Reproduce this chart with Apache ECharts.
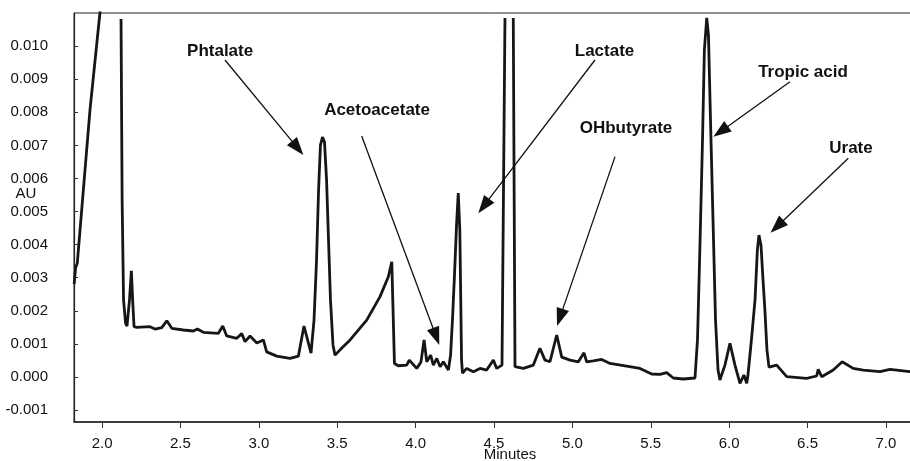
<!DOCTYPE html>
<html><head><meta charset="utf-8">
<script src="https://cdn.jsdelivr.net/npm/echarts@6/dist/echarts.min.js"></script>
<style>html,body{margin:0;padding:0;background:#fff}#c{width:910px;height:461px}</style>
</head><body><div id="c"></div>
<script>
// Retention time (minutes)
const times = [
  1.822, 1.831, 1.842, 1.923, 1.987, 2.001, 2.060,
  2.121, 2.128, 2.137, 2.150, 2.159, 2.175, 2.187, 2.195, 2.204,
  2.221, 2.306, 2.338, 2.381, 2.413, 2.445, 2.518, 2.582, 2.608, 2.646,
  2.742, 2.770, 2.795, 2.859, 2.891, 2.912, 2.944, 2.987, 3.029, 3.050,
  3.114, 3.199, 3.252, 3.288, 3.333,
  3.352, 3.368, 3.381, 3.393, 3.406, 3.419, 3.432, 3.443, 3.457, 3.473, 3.486,
  3.518, 3.582, 3.688, 3.773, 3.826, 3.848, 3.865, 3.890, 3.943, 3.960,
  4.007, 4.034, 4.054, 4.071, 4.096, 4.113, 4.135, 4.156, 4.177, 4.209,
  4.223, 4.235, 4.248, 4.261, 4.272, 4.282, 4.288, 4.293, 4.299,
  4.326, 4.368, 4.411, 4.453, 4.496, 4.517, 4.551, 4.570, 4.597, 4.623,
  4.634, 4.687, 4.751, 4.793, 4.825, 4.857, 4.900, 4.932, 4.985,
  5.038, 5.074, 5.091, 5.133, 5.187, 5.240, 5.346, 5.431, 5.506, 5.559,
  5.601, 5.644, 5.707, 5.782,
  5.798, 5.813, 5.830, 5.842, 5.857, 5.868, 5.881, 5.897, 5.913, 5.929, 5.941,
  5.973, 6.005, 6.037, 6.069, 6.094, 6.112,
  6.120, 6.142, 6.165, 6.180, 6.190, 6.203, 6.216, 6.228, 6.241, 6.254,
  6.303, 6.367, 6.494, 6.558, 6.568, 6.590, 6.664, 6.721, 6.791, 6.855,
  6.962, 7.026, 7.153, 7.179
];
// Absorbance (AU); null = trace off scale
const au = [
  0.00281, 0.00330, 0.00344, 0.00807, 0.01103, 0.01170, null,
  0.01082, 0.00535, 0.00233, 0.00163, 0.00154, 0.00233, 0.00321, 0.00233, 0.00152,
  0.00150, 0.00152, 0.00145, 0.00149, 0.00170, 0.00147, 0.00142, 0.00139, 0.00145, 0.00135,
  0.00132, 0.00154, 0.00124, 0.00117, 0.00131, 0.00107, 0.00124, 0.00103, 0.00112, 0.00076,
  0.00063, 0.00056, 0.00063, 0.00154, 0.00072,
  0.00172, 0.00353, 0.00565, 0.00701, 0.00725, 0.00710, 0.00595, 0.00435, 0.00233, 0.00097, 0.00066,
  0.00082, 0.00112, 0.00172, 0.00243, 0.00303, 0.00348, 0.00041, 0.00034, 0.00036, 0.00051,
  0.00026, 0.00045, 0.00112, 0.00046, 0.00066, 0.00036, 0.00056, 0.00031, 0.00046, 0.00021,
  0.00066, 0.00172, 0.00308, 0.00459, 0.00556, 0.00444, 0.00233, 0.00051, 0.00012,
  0.00026, 0.00016, 0.00026, 0.00021, 0.00051, 0.00026, 0.00036, 0.01085, null, 0.01085,
  0.00031, 0.00026, 0.00036, 0.00087, 0.00051, 0.00046, 0.00127, 0.00060, 0.00051,
  0.00046, 0.00073, 0.00046, 0.00049, 0.00053, 0.00041, 0.00033, 0.00026, 0.00009, 0.00008,
  0.00013, -0.00003, -0.00006, -0.00003,
  0.00112, 0.00384, 0.00716, 0.00988, 0.01085, 0.01033, 0.00776, 0.00474, 0.00172, 0.00021, -0.00009,
  0.00036, 0.00102, 0.00036, -0.00019, 0.00006, -0.00019,
  0.00006, 0.00112, 0.00233, 0.00384, 0.00429, 0.00399, 0.00293, 0.00202, 0.00082, 0.00030,
  0.00036, 0.00001, -0.00004, 0.00003, 0.00023, 0.00001, 0.00021, 0.00046, 0.00026, 0.00021,
  0.00016, 0.00023, 0.00016, 0.00017
];
const xTicks = [2.0, 2.5, 3.0, 3.5, 4.0, 4.5, 5.0, 5.5, 6.0, 6.5, 7.0];
const yTicks = [-0.001, 0.000, 0.001, 0.002, 0.003, 0.004, 0.005, 0.006, 0.007, 0.008, 0.009, 0.010];
const peakNames = ['Phtalate', 'Acetoacetate', 'Lactate', 'OHbutyrate', 'Tropic acid', 'Urate'];
const labelAt = [[2.753, 0.00985], [3.754, 0.00807], [5.205, 0.00983], [5.342, 0.00751], [6.471, 0.00921], [6.777, 0.00691]];
const arrowFrom = [[2.784, 0.00958], [3.656, 0.00728], [5.144, 0.00958], [5.272, 0.00666], [6.388, 0.00892], [6.760, 0.00661]];
const arrowTo = [[3.284, 0.00671], [4.151, 0.00097], [4.400, 0.00495], [4.902, 0.00154], [5.899, 0.00726], [6.264, 0.00436]];

const FONT = '"Liberation Sans", Arial, Helvetica, sans-serif';
const chart = echarts.init(document.getElementById('c'), null, {renderer: 'canvas'});
const data = times.map((t, i) => [t, au[i] === null ? '-' : au[i]]);

chart.setOption({
  animation: false,
  backgroundColor: '#fff',
  grid: {left: 74, top: 13, width: 840, height: 409, show: true, borderColor: '#222', borderWidth: 1,
    containLabel: false, outerBoundsMode: 'none'},
  xAxis: {
    type: 'value', min: 1.821, max: 7.179,
    axisLine: {show: true, onZero: false, lineStyle: {color: '#222', width: 1.5}},
    axisTick: {show: true, length: 6, customValues: xTicks, lineStyle: {color: '#333'}},
    axisLabel: {customValues: xTicks, formatter: v => v.toFixed(1), color: '#111', fontSize: 15, fontFamily: FONT, margin: 14},
    splitLine: {show: false}
  },
  yAxis: {
    type: 'value', min: -0.00136, max: 0.011,
    axisLine: {show: true, onZero: false, lineStyle: {color: '#222', width: 1.2}},
    axisTick: {show: true, inside: true, length: 4, customValues: yTicks, lineStyle: {color: '#333'}},
    axisLabel: {customValues: yTicks, formatter: v => v.toFixed(3), color: '#111', fontSize: 15, fontFamily: FONT, margin: 26},
    splitLine: {show: false}
  },
  series: [{
    type: 'line', data: data, symbol: 'none', showSymbol: false, connectNulls: false, clip: true,
    lineStyle: {color: '#161616', width: 2.8}
  }]
});

const g = [];
peakNames.forEach((name, i) => {
  const p = chart.convertToPixel({gridIndex: 0}, labelAt[i]);
  g.push({type: 'text', x: p[0], y: p[1], z: 10,
    style: {text: name, fontSize: 17, fontWeight: 'bold', fontFamily: FONT, fill: '#111',
      textAlign: 'center', textVerticalAlign: 'middle', align: 'center', verticalAlign: 'middle'}});
  const a = chart.convertToPixel({gridIndex: 0}, arrowFrom[i]);
  const b = chart.convertToPixel({gridIndex: 0}, arrowTo[i]);
  const dx = b[0] - a[0], dy = b[1] - a[1], L = Math.hypot(dx, dy), ux = dx / L, uy = dy / L;
  const hl = 18, hw = 6.5;
  const bx = b[0] - ux * hl, by = b[1] - uy * hl;
  g.push({type: 'line', z: 10, shape: {x1: a[0], y1: a[1], x2: bx + ux * 2, y2: by + uy * 2}, style: {stroke: '#111', lineWidth: 1.3}});
  g.push({type: 'polygon', z: 10, shape: {points: [[b[0], b[1]], [bx - uy * hw, by + ux * hw], [bx + uy * hw, by - ux * hw]]}, style: {fill: '#111'}});
});
g.push({type: 'text', x: 26, y: 194, style: {text: 'AU', fontSize: 15, fontFamily: FONT, fill: '#111',
  textAlign: 'center', textVerticalAlign: 'middle', align: 'center', verticalAlign: 'middle'}});
g.push({type: 'text', x: 510, y: 455, style: {text: 'Minutes', fontSize: 15, fontFamily: FONT, fill: '#111',
  textAlign: 'center', textVerticalAlign: 'middle', align: 'center', verticalAlign: 'middle'}});
chart.setOption({graphic: g});
</script>
</body></html>
